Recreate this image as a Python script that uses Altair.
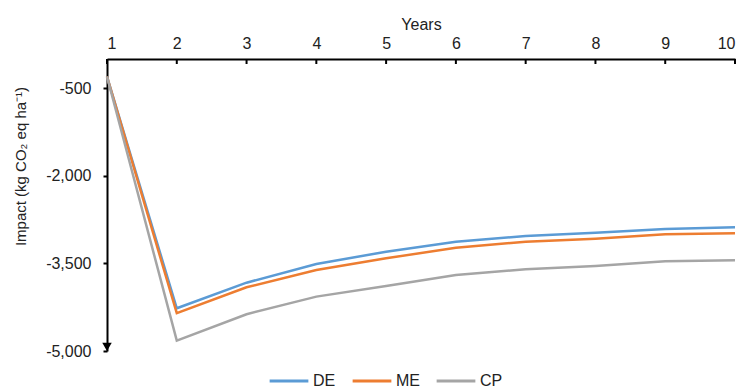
import altair as alt
import pandas as pd

years = [1, 2, 3, 4, 5, 6, 7, 8, 9, 10]
de = [-300, -4268, -3830, -3510, -3300, -3129, -3031, -2975, -2911, -2882]
me = [-300, -4353, -3909, -3613, -3413, -3231, -3129, -3077, -3002, -2985]
cp = [-300, -4822, -4370, -4069, -3886, -3698, -3601, -3544, -3464, -3447]
series = ["DE", "ME", "CP"]
colors = ["#5B9BD5", "#ED7D31", "#A5A5A5"]
y_ticks = [-500, -2000, -3500, -5000]

rows = []
for name, vals in zip(series, [de, me, cp]):
    for yr, v in zip(years, vals):
        rows.append({"Year": yr, "Impact": v, "Series": name})
df = pd.DataFrame(rows)

font = "Liberation Sans"

xs = alt.X("Year:Q", scale=alt.Scale(domain=[1, 10], nice=False),
           axis=alt.Axis(orient="top", title="Years", values=years, format="d",
                         grid=False, domainColor="black", domainWidth=2,
                         ticks=False,
                         labelFontSize=16, labelFont=font, labelColor="#222",
                         titleFontSize=16, titleFont=font, titleFontWeight="normal",
                         titleColor="#222", titlePadding=3, labelPadding=8))
ys = alt.Y("Impact:Q", scale=alt.Scale(domain=[-5000, 0], nice=False),
           axis=alt.Axis(title="Impact (kg CO₂ eq ha⁻¹)", values=y_ticks,
                         labelExpr="'-' + format(abs(datum.value), ',')",
                         grid=False, domainColor="black", domainWidth=2,
                         tickColor="black", tickWidth=2, tickSize=4,
                         labelFontSize=16, labelFont=font, labelColor="#222",
                         titleFontSize=15, titleFont=font, titleFontWeight="normal",
                         titleColor="#222", titleX=-87, titleY=107,
                         titleAlign="center", titleBaseline="middle",
                         labelPadding=12))

lines = alt.Chart(df).mark_line(strokeWidth=2.5).encode(
    x=xs, y=ys,
    color=alt.Color("Series:N", scale=alt.Scale(domain=series, range=colors),
                    sort=series,
                    legend=alt.Legend(title=None, orient="none", direction="horizontal",
                                      legendX=161, legendY=301,
                                      symbolType="stroke", symbolStrokeWidth=3,
                                      symbolSize=1500, labelFontSize=16, labelFont=font,
                                      labelColor="#222", columnPadding=10, labelOffset=3)),
)

tick_df = pd.DataFrame({"Year": years})
xticks = alt.Chart(tick_df).mark_rule(color="black", strokeWidth=2).encode(
    x="Year:Q", y=alt.value(0), y2=alt.value(5))

arrow_df = pd.DataFrame({"Year": [1], "Impact": [-4930]})
arrow = alt.Chart(arrow_df).mark_point(shape="triangle-down", filled=True,
                                       color="black", size=90, opacity=1).encode(
    x="Year:Q", y="Impact:Q")

chart = alt.layer(lines, xticks, arrow).properties(
    width=628, height=292,
    autosize=alt.AutoSizeParams(type="none"),
    padding={"left": 107, "top": 59, "right": 17, "bottom": 38},
).configure_view(stroke=None)

chart.save("out.html", embed_options={"renderer": "svg", "actions": False})
